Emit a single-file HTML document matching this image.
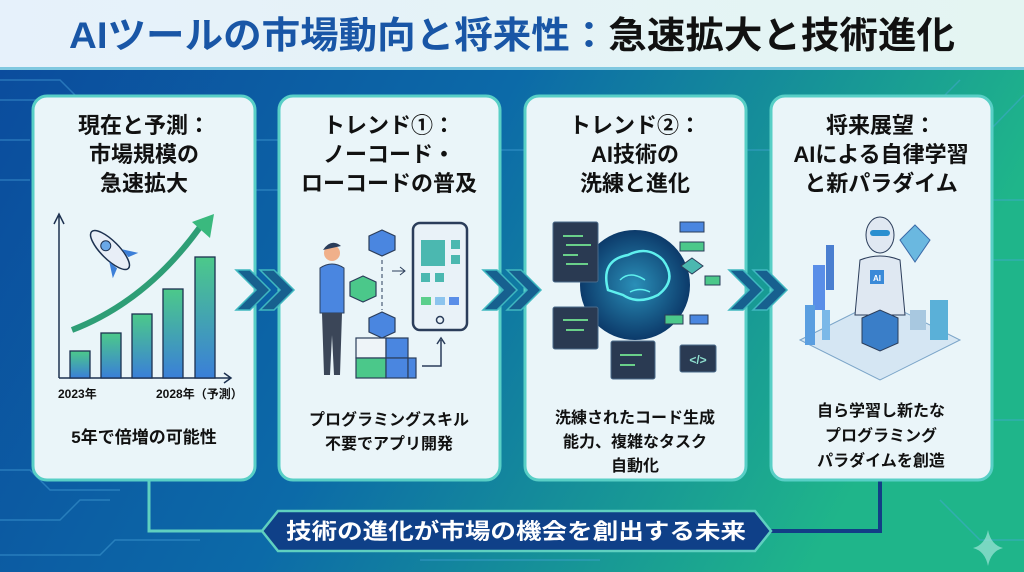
<!DOCTYPE html>
<html><head><meta charset="utf-8">
<style>
html,body{margin:0;padding:0;width:1024px;height:572px;overflow:hidden;background:#e8f3fa}
svg{display:block}
text{font-family:"Liberation Sans","Noto Sans CJK JP",sans-serif;font-weight:bold}
</style></head><body>
<svg width="1024" height="572" viewBox="0 0 1024 572" xmlns="http://www.w3.org/2000/svg">
<defs>
<linearGradient id="bg" x1="0" y1="0" x2="1" y2="0.3">
<stop offset="0" stop-color="#0b4a9c"/><stop offset="0.5" stop-color="#0c6aa8"/><stop offset="1" stop-color="#1fb58a"/>
</linearGradient>
<linearGradient id="hd" x1="0" y1="0" x2="1" y2="0">
<stop offset="0" stop-color="#e6f1fb"/><stop offset="1" stop-color="#e4f5f2"/>
</linearGradient>
<linearGradient id="bar" x1="0" y1="0" x2="0" y2="1">
<stop offset="0" stop-color="#4cc98a"/><stop offset="1" stop-color="#3a7fd8"/>
</linearGradient>
<radialGradient id="glow"><stop offset="0" stop-color="#2a8fb8"/><stop offset="1" stop-color="#0c3a6a"/></radialGradient>
</defs>
<rect width="1024" height="572" fill="url(#bg)"/>
<rect width="1024" height="68" fill="url(#hd)"/>
<rect y="67" width="1024" height="3" fill="#7fc8e0"/>
<g stroke="#4aa6dc" stroke-width="1.5" fill="none" opacity="0.45">
<path d="M0 80 H60 L80 100 H200"/><path d="M0 100 H40 L60 120"/><path d="M0 140 H30"/><path d="M0 180 H30"/><path d="M0 470 H30 L50 490 H120"/><path d="M0 520 H60 L80 500 H110"/><path d="M0 555 H100 L115 540 H200"/>
<path d="M255 140 H278"/><path d="M255 190 H278"/><path d="M500 150 H524"/><path d="M746 150 H770"/>
<path d="M960 80 L940 100"/><path d="M1024 95 L990 130"/><path d="M993 200 H1024"/><path d="M993 260 H1024"/><path d="M993 420 H1024"/><path d="M940 500 L980 540 H1024"/><path d="M420 560 H600"/>
</g>
<text x="512" y="48" text-anchor="middle" font-size="37" textLength="886" lengthAdjust="spacingAndGlyphs"><tspan fill="#1956a6">AIツールの市場動向と将来性：</tspan><tspan fill="#111">急速拡大と技術進化</tspan></text>
<g stroke="#5fd0c0" stroke-width="3" fill="none">
<path d="M149 480 V531 H262"/>
</g>
<path d="M880 480 V531 H770" stroke="#123e86" stroke-width="4" fill="none"/>
<g fill="#eaf5f9" stroke="#58cfc6" stroke-width="3">
<rect x="33" y="96" width="222" height="384" rx="14"/>
<rect x="279" y="96" width="221" height="384" rx="14"/>
<rect x="525" y="96" width="221" height="384" rx="14"/>
<rect x="771" y="96" width="221" height="384" rx="14"/>
</g>
<!-- chevrons -->
<g fill="#17608f" stroke="#3fb8c0" stroke-width="1.5">
<path d="M236 270 h14 l20 20 l-20 20 h-14 l20 -20z"/><path d="M260 270 h14 l20 20 l-20 20 h-14 l20 -20z"/>
<path d="M483 270 h14 l20 20 l-20 20 h-14 l20 -20z"/><path d="M507 270 h14 l20 20 l-20 20 h-14 l20 -20z"/>
<path d="M729 270 h14 l20 20 l-20 20 h-14 l20 -20z"/><path d="M753 270 h14 l20 20 l-20 20 h-14 l20 -20z"/>
</g>
<g font-size="22" fill="#111" text-anchor="middle">
<text x="144" y="133">現在と予測：</text><text x="144" y="162">市場規模の</text><text x="144" y="191">急速拡大</text>
<text x="389" y="133">トレンド①：</text><text x="389" y="162">ノーコード・</text><text x="389" y="191">ローコードの普及</text>
<text x="635" y="133">トレンド②：</text><text x="635" y="162">AI技術の</text><text x="635" y="191">洗練と進化</text>
<text x="881" y="133">将来展望：</text><text x="881" y="162">AIによる自律学習</text><text x="881" y="191">と新パラダイム</text>
</g>
<g stroke="#1d3150" stroke-width="1.5" fill="none">
<path d="M59 378 V216 M54 224 L59 214 L64 224"/><path d="M59 378 H230 M224 373 L231 378 L224 383"/>
</g>
<g fill="url(#bar)" stroke="#1d3150" stroke-width="1.3">
<rect x="70" y="351" width="20" height="27"/><rect x="101" y="333" width="20" height="45"/><rect x="132" y="314" width="20" height="64"/><rect x="163" y="289" width="20" height="89"/><rect x="195" y="257" width="20" height="121"/>
</g>
<path d="M72 330 Q150 300 205 220" stroke="#2e9e76" stroke-width="6" fill="none"/>
<path d="M192 222 L214 214 L210 238 Z" fill="#3ab97e"/>
<g transform="translate(110,250) rotate(-45)">
<ellipse cx="0" cy="0" rx="9" ry="26" fill="#e8eef7" stroke="#1d3150" stroke-width="1.5"/>
<circle cx="0" cy="-6" r="5" fill="#6aa8e8" stroke="#1d3150"/>
<path d="M-9 8 L-18 22 L-8 18 Z M9 8 L18 22 L8 18Z" fill="#3c7fd8"/>
</g>
<g font-size="12" fill="#111"><text x="58" y="398">2023年</text><text x="156" y="398">2028年（予測）</text></g>
<text x="144" y="443" font-size="17" fill="#111" text-anchor="middle">5年で倍増の可能性</text>
<rect x="413" y="223" width="54" height="107" rx="7" fill="#e9f2f8" stroke="#2b3d5a" stroke-width="2.5"/>
<rect x="421" y="240" width="24" height="26" fill="#4bb8b0"/><rect x="451" y="240" width="9" height="9" fill="#4bb8b0"/><rect x="451" y="255" width="9" height="9" fill="#4bb8b0"/>
<rect x="421" y="273" width="9" height="9" fill="#4bb8b0"/><rect x="435" y="273" width="9" height="9" fill="#4bb8b0"/>
<rect x="421" y="297" width="10" height="8" fill="#5ccf8c"/><rect x="435" y="297" width="10" height="8" fill="#8cc4ee"/><rect x="449" y="297" width="10" height="8" fill="#5a8ee8"/>
<circle cx="440" cy="320" r="3.5" fill="none" stroke="#2b3d5a" stroke-width="1.5"/>
<g stroke="#2b3d5a" stroke-width="1.2">
<rect x="356" y="338" width="30" height="20" fill="#eef4f8"/><rect x="386" y="338" width="22" height="20" fill="#4a86e0"/>
<rect x="356" y="358" width="30" height="20" fill="#4bc88a"/><rect x="386" y="358" width="22" height="20" fill="#4a86e0"/><rect x="408" y="358" width="8" height="20" fill="#4a86e0"/>
<path d="M369 318 l13 -6 l13 6 v14 l-13 6 l-13 -6z" fill="#4a86e0"/>
<path d="M369 236 l13 -6 l13 6 v14 l-13 6 l-13 -6z" fill="#4a86e0"/>
<path d="M350 282 l13 -6 l13 6 v14 l-13 6 l-13 -6z" fill="#4bc88a"/>
</g>
<path d="M382 260 V310" stroke="#2b3d5a" stroke-dasharray="4 3" fill="none"/>
<path d="M392 271 H405 M400 267 L405 271 L400 275" stroke="#2b3d5a" fill="none"/>
<path d="M422 366 H441 V340 M437 344 L441 338 L445 344" stroke="#2b3d5a" stroke-width="1.5" fill="none"/>
<circle cx="332" cy="253" r="8" fill="#f0b08a"/><path d="M323 250 q8 -12 18 -4" fill="#2b3d5a"/>
<path d="M320 268 q12 -8 24 0 v45 h-24z" fill="#4a86e0" stroke="#2b3d5a"/>
<path d="M322 313 h20 l-2 62 h-6 l-2 -40 l-2 40 h-6z" fill="#3b4658"/>
<text x="389" y="425" font-size="16" fill="#111" text-anchor="middle">プログラミングスキル</text>
<text x="389" y="449" font-size="16" fill="#111" text-anchor="middle">不要でアプリ開発</text>
<circle cx="635" cy="285" r="55" fill="url(#glow)"/>
<path d="M608 290 q-8 -30 20 -35 q20 -10 35 5 q15 20 -5 35 q-20 10 -35 0z" fill="none" stroke="#5ff0ee" stroke-width="2.5"/>
<path d="M620 280 q10 -10 25 0 M630 292 q10 -5 20 0" stroke="#5ff0ee" stroke-width="1.5" fill="none"/>
<g fill="#2a3a52" stroke="#4a6a8a">
<rect x="553" y="222" width="45" height="60" rx="2"/><rect x="553" y="307" width="45" height="42" rx="2"/><rect x="611" y="341" width="44" height="38" rx="2"/><rect x="680" y="345" width="36" height="27" rx="2"/>
</g>
<g stroke="#6ad08a" stroke-width="2"><path d="M563 236 h20 M566 245 h25 M563 255 h15 M566 264 h22 M563 320 h25 M566 330 h18 M620 355 h22 M620 365 h15"/></g>
<text x="698" y="364" font-size="12" fill="#8fe0d0" text-anchor="middle">&lt;/&gt;</text>
<g stroke="#2b3d5a" stroke-width="1">
<rect x="680" y="222" width="24" height="10" fill="#4a86e0"/><rect x="680" y="242" width="24" height="9" fill="#4bc88a"/>
<path d="M692 258 l11 8 l-11 8 l-11 -8z" fill="#4bb8b0"/><rect x="705" y="276" width="15" height="9" fill="#4bc88a"/>
<rect x="665" y="315" width="18" height="9" fill="#4bc88a"/><rect x="690" y="315" width="18" height="9" fill="#4a86e0"/>
</g>
<text x="635" y="423" font-size="16" fill="#111" text-anchor="middle">洗練されたコード生成</text>
<text x="635" y="447" font-size="16" fill="#111" text-anchor="middle">能力、複雑なタスク</text>
<text x="635" y="471" font-size="16" fill="#111" text-anchor="middle">自動化</text>
<path d="M800 340 L880 300 L960 340 L880 380Z" fill="#d5e6f3" stroke="#7aa4c8"/>
<rect x="813" y="265" width="12" height="45" fill="#5a8ee8"/><rect x="826" y="245" width="8" height="45" fill="#4a7ed0"/>
<rect x="805" y="305" width="10" height="40" fill="#5a9ee0"/><rect x="822" y="310" width="8" height="30" fill="#7ab8e8"/>
<path d="M900 240 l15 -15 l15 15 l-15 22z" fill="#6ab8e0" stroke="#3a6aa8"/>
<ellipse cx="880" cy="235" rx="14" ry="18" fill="#e0e8f2" stroke="#2b3d5a"/>
<rect x="870" y="230" width="20" height="6" rx="3" fill="#2a8fd0"/>
<path d="M860 260 q20 -8 40 0 l5 55 h-50z" fill="#dfe8f2" stroke="#2b3d5a"/>
<rect x="870" y="270" width="14" height="14" fill="#3a8ad8"/><text x="877" y="281" font-size="8" fill="#fff" text-anchor="middle">AI</text>
<path d="M862 318 l18 -8 l18 8 v25 l-18 8 l-18 -8z" fill="#3a7ec8" stroke="#2b3d5a"/>
<rect x="930" y="300" width="18" height="40" fill="#5ab0d8"/><rect x="910" y="310" width="16" height="20" fill="#a8c8e0"/>
<text x="881" y="416" font-size="16" fill="#111" text-anchor="middle">自ら学習し新たな</text>
<text x="881" y="441" font-size="16" fill="#111" text-anchor="middle">プログラミング</text>
<text x="881" y="466" font-size="16" fill="#111" text-anchor="middle">パラダイムを創造</text>
<path d="M262 531 L278 511 H755 L771 531 L755 551 H278 Z" fill="#0f4088" stroke="#5fd0c0" stroke-width="2.5"/>
<text x="516" y="539" font-size="22" fill="#fff" text-anchor="middle" textLength="460" lengthAdjust="spacingAndGlyphs">技術の進化が市場の機会を創出する未来</text>
<path d="M988 530 Q991 545 1003 548 Q991 551 988 566 Q985 551 973 548 Q985 545 988 530Z" fill="#9fe6d8" opacity="0.7"/>
</svg>
</body></html>
